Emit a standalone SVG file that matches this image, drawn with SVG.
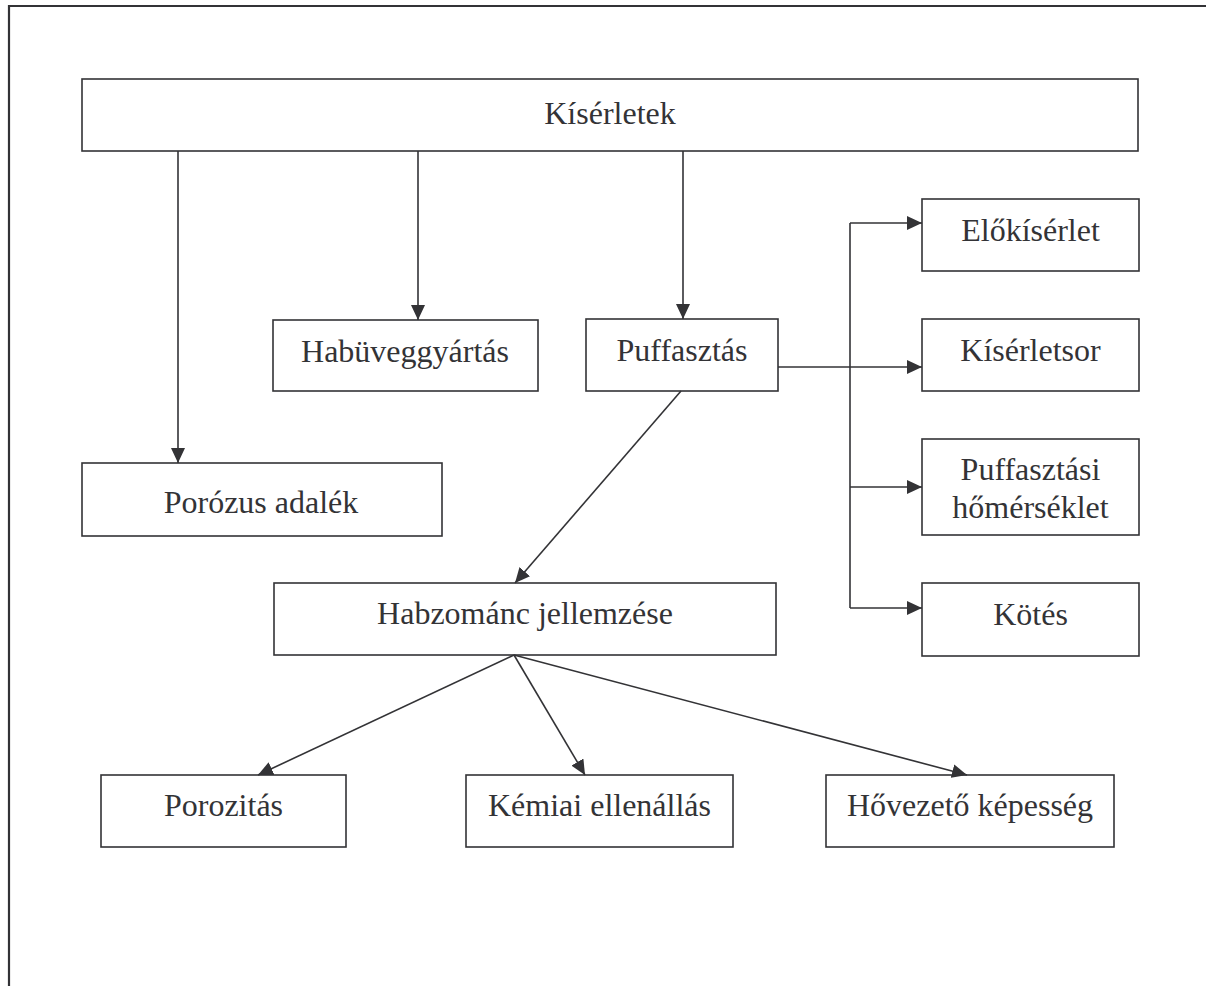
<svg xmlns="http://www.w3.org/2000/svg" width="1206" height="986" viewBox="0 0 1206 986">
<style>
.box{fill:#fff;stroke:#333336;stroke-width:1.6}
.t{font-family:"Liberation Serif","Times New Roman",serif;font-size:32px;fill:#333336;text-anchor:middle}
.c{fill:none;stroke:#333336;stroke-width:1.6}
.frame{fill:none;stroke:#333336;stroke-width:2.2}
</style>
<defs>
<marker id="ah" markerUnits="userSpaceOnUse" markerWidth="15" markerHeight="14" refX="15" refY="7" orient="auto" viewBox="0 0 15 14">
<path d="M0,0 L15,7 L0,14 Z" fill="#333336"/>
</marker>
</defs>
<rect width="1206" height="986" fill="#fff"/>
<path class="frame" d="M9,986 V6 H1206"/>
<g id="n-kiserletek"><rect class="box" x="82" y="79" width="1056" height="72"/><text class="t" x="610" y="124">Kísérletek</text></g>
<g id="n-habuveg"><rect class="box" x="273" y="320" width="265" height="71"/><text class="t" x="405" y="362">Habüveggyártás</text></g>
<g id="n-puffasztas"><rect class="box" x="586" y="319" width="192" height="72"/><text class="t" x="682" y="361">Puffasztás</text></g>
<g id="n-porozus"><rect class="box" x="82" y="463" width="360" height="73"/><text class="t" x="261" y="513">Porózus adalék</text></g>
<g id="n-elokiserlet"><rect class="box" x="922" y="199" width="217" height="72"/><text class="t" x="1030.5" y="241">Előkísérlet</text></g>
<g id="n-kiserletsor"><rect class="box" x="922" y="319" width="217" height="72"/><text class="t" x="1030.5" y="361">Kísérletsor</text></g>
<g id="n-puffhom"><rect class="box" x="922" y="439" width="217" height="96"/><text class="t" x="1030.5" y="480">Puffasztási</text><text class="t" x="1030.5" y="518">hőmérséklet</text></g>
<g id="n-kotes"><rect class="box" x="922" y="583" width="217" height="73"/><text class="t" x="1030.5" y="625">Kötés</text></g>
<g id="n-habzomanc"><rect class="box" x="274" y="583" width="502" height="72"/><text class="t" x="525" y="624">Habzománc jellemzése</text></g>
<g id="n-porozitas"><rect class="box" x="101" y="775" width="245" height="72"/><text class="t" x="223.5" y="816">Porozitás</text></g>
<g id="n-kemiai"><rect class="box" x="466" y="775" width="267" height="72"/><text class="t" x="599.5" y="816">Kémiai ellenállás</text></g>
<g id="n-hovezeto"><rect class="box" x="826" y="775" width="288" height="72"/><text class="t" x="970" y="816">Hővezető képesség</text></g>
<g id="connectors">
<line class="c" x1="178" y1="151" x2="178" y2="463" marker-end="url(#ah)"/>
<line class="c" x1="418" y1="151" x2="418" y2="320" marker-end="url(#ah)"/>
<line class="c" x1="683" y1="151" x2="683" y2="319" marker-end="url(#ah)"/>
<line class="c" x1="778" y1="367" x2="922" y2="367" marker-end="url(#ah)"/>
<line class="c" x1="850" y1="608" x2="850" y2="223"/>
<line class="c" x1="850" y1="223" x2="922" y2="223" marker-end="url(#ah)"/>
<line class="c" x1="850" y1="487" x2="922" y2="487" marker-end="url(#ah)"/>
<line class="c" x1="850" y1="608" x2="922" y2="608" marker-end="url(#ah)"/>
<line class="c" x1="681" y1="391" x2="515" y2="583" marker-end="url(#ah)"/>
<line class="c" x1="514" y1="655" x2="258" y2="775" marker-end="url(#ah)"/>
<line class="c" x1="514" y1="655" x2="585" y2="775" marker-end="url(#ah)"/>
<line class="c" x1="514" y1="655" x2="967" y2="775" marker-end="url(#ah)"/>
</g>
</svg>
